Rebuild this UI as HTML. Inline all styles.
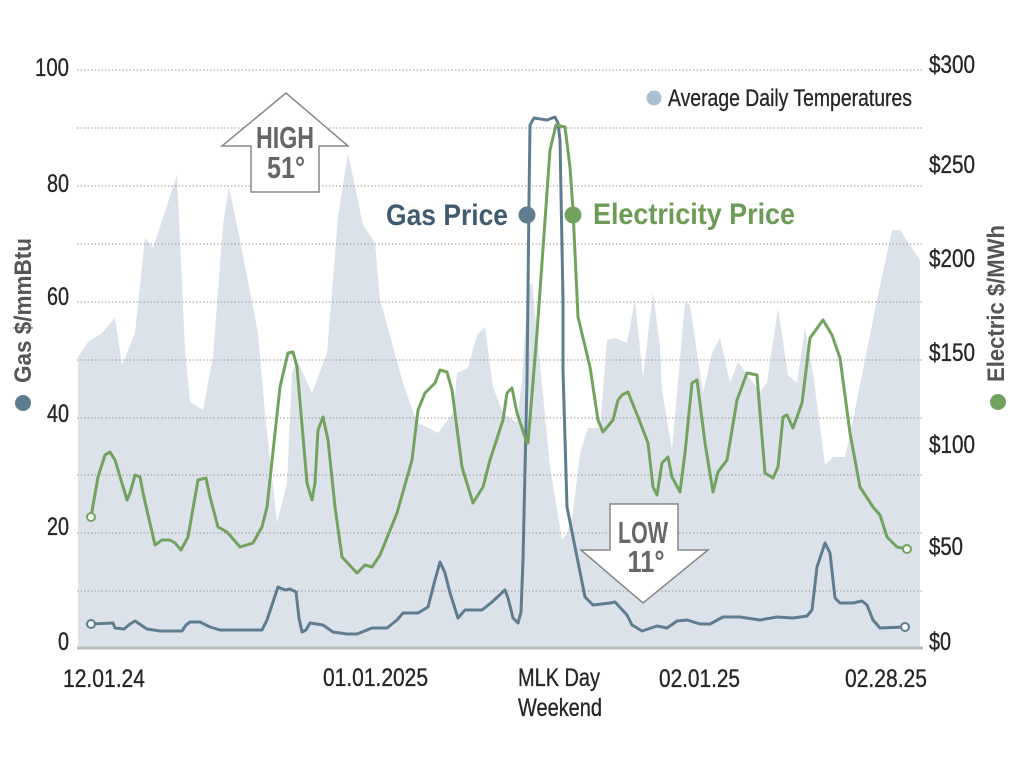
<!DOCTYPE html>
<html><head><meta charset="utf-8"><style>
html,body{margin:0;padding:0;background:#fff;}
svg{display:block;}
text{font-family:"Liberation Sans Narrow","Liberation Sans",sans-serif;}
</style></head><body>
<svg width="1014" height="771" viewBox="0 0 1014 771" xmlns="http://www.w3.org/2000/svg">
<rect width="1014" height="771" fill="#fff"/>
<polygon fill="#dce2ea" points="78,648 78,357 88,342 102,333 115,318 122,365 135,333 145,238 153,248 177,175 185,350 190,402 203,410 213,357 223,225 229,187 240,240 258,333 265,413 277,523 287,483 292,373 297,360 312,393 327,353 338,217 348,153 363,225 375,243 380,300 383,310 403,383 417,423 427,427 438,433 453,413 457,373 468,368 477,335 485,327 493,387 503,413 517,423 522,380 528,287 532,283 537,333 550,467 562,540 567,533 573,513 580,453 588,428 600,428 607,340 615,338 627,343 635,300 643,378 653,292 660,347 662,390 672,450 685,302 690,305 703,393 712,353 720,338 730,383 738,362 760,392 767,383 778,308 788,375 797,383 805,328 813,373 825,465 833,457 845,457 853,420 865,360 877,300 892,230 900,230 920,260 920,648"/>
<g stroke="#9a9a9a" stroke-width="1" stroke-dasharray="1.5,2">
<line x1="77" x2="923" y1="70" y2="70"/>
<line x1="77" x2="923" y1="128" y2="128"/>
<line x1="77" x2="923" y1="186" y2="186"/>
<line x1="77" x2="923" y1="244" y2="244"/>
<line x1="77" x2="923" y1="302" y2="302"/>
<line x1="77" x2="923" y1="360" y2="360"/>
<line x1="77" x2="923" y1="418" y2="418"/>
<line x1="77" x2="923" y1="475" y2="475"/>
<line x1="77" x2="923" y1="533" y2="533"/>
<line x1="77" x2="923" y1="591" y2="591"/>
</g>
<line x1="77" x2="923" y1="648" y2="648" stroke="#bcbcbc" stroke-width="3"/>

<polygon points="286,93 348,146 319,146 319,192 251,192 251,146 222,146" fill="#fff" stroke="#888" stroke-width="1.5"/>
<text x="285" y="148" font-size="31" font-weight="bold" fill="#666" text-anchor="middle" textLength="58" lengthAdjust="spacingAndGlyphs">HIGH</text>
<text x="286" y="178" font-size="31" font-weight="bold" fill="#666" text-anchor="middle" textLength="38" lengthAdjust="spacingAndGlyphs">51°</text>

<polygon points="610,504 678,504 678,550 708,550 643,603 581,550 610,550" fill="#fff" stroke="#888" stroke-width="1.5"/>
<text x="643" y="543" font-size="31" font-weight="bold" fill="#666" text-anchor="middle" textLength="50" lengthAdjust="spacingAndGlyphs">LOW</text>
<text x="646" y="572" font-size="31" font-weight="bold" fill="#666" text-anchor="middle" textLength="37" lengthAdjust="spacingAndGlyphs">11°</text>

<polyline fill="none" stroke="#5e7d8f" stroke-width="3" stroke-linejoin="round" stroke-linecap="round" points="91,624 113,623 115,628 124,629 130,624 135,621 147,629 160,631 182,631 186,625 190,622 200,622 210,627 220,630 262,630 267,620 272,605 278,587 285,590 290,589 296,592 299,618 302,632 306,630 310,623 323,625 333,632 347,634 357,634 372,628 387,628 397,620 403,613 418,613 428,607 435,580 440,562 445,573 450,593 458,618 465,610 482,610 492,602 505,590 508,598 513,618 518,623 521,612 523,560 527,380 529,200 530,125 534,118 547,120 555,117 558,123 560,140 563,300 563,370 567,507 575,547 585,597 593,605 610,603 615,602 627,615 632,625 642,631 657,626 667,628 677,621 687,620 700,624 710,624 723,617 740,617 760,620 777,617 793,618 807,616 812,610 817,567 825,543 830,553 835,598 840,603 853,603 862,601 867,605 873,620 880,628 905,627"/>
<circle cx="91" cy="624" r="4" fill="#fff" stroke="#5e7d8f" stroke-width="2"/>
<circle cx="905" cy="627" r="4" fill="#fff" stroke="#5e7d8f" stroke-width="2"/>

<polyline fill="none" stroke="#72a35e" stroke-width="3" stroke-linejoin="round" stroke-linecap="round" points="91,517 98,477 105,455 110,452 115,460 127,500 130,493 135,475 140,477 143,493 155,545 162,540 170,540 175,543 181,550 188,537 198,480 206,478 210,497 218,527 227,532 240,547 253,543 262,527 267,507 280,387 288,353 293,352 297,367 307,483 312,500 315,483 318,430 323,417 328,440 335,507 342,557 357,573 365,565 372,567 380,555 397,513 412,460 418,410 425,393 435,383 440,370 447,372 452,390 462,467 473,503 483,487 490,460 503,420 507,393 512,388 517,413 527,443 528,443 537,333 550,150 556,125 565,127 570,167 573,210 578,317 590,367 598,420 603,432 613,420 618,400 622,395 628,392 638,417 648,443 653,487 657,495 662,463 668,457 672,477 680,492 685,453 692,383 697,380 705,443 713,492 718,472 727,460 737,400 747,373 757,375 760,413 765,473 773,478 778,467 783,417 787,415 793,428 802,403 810,338 823,320 832,335 840,358 850,433 860,487 873,507 880,515 887,537 897,547 907,549"/>
<circle cx="91" cy="517" r="4" fill="#fff" stroke="#72a35e" stroke-width="2"/>
<circle cx="907" cy="549" r="4" fill="#fff" stroke="#72a35e" stroke-width="2"/>

<text x="386" y="225" font-size="30" font-weight="bold" fill="#3f5b70" textLength="122" lengthAdjust="spacingAndGlyphs">Gas Price</text>
<circle cx="527" cy="215" r="8.5" fill="#5e7d8f"/>
<circle cx="573" cy="215" r="8.5" fill="#72a35e"/>
<text x="593" y="224" font-size="30" font-weight="bold" fill="#6b9b55" textLength="202" lengthAdjust="spacingAndGlyphs">Electricity Price</text>

<circle cx="654" cy="98" r="7.5" fill="#aabfcf"/>
<text x="668" y="106" font-size="24" fill="#262626" stroke="#262626" stroke-width="0.3" textLength="244" lengthAdjust="spacingAndGlyphs">Average Daily Temperatures</text>

<g font-size="25" fill="#262626" stroke="#262626" stroke-width="0.35" text-anchor="end">
<text x="69" y="76" textLength="34" lengthAdjust="spacingAndGlyphs">100</text>
<text x="69" y="192" textLength="22" lengthAdjust="spacingAndGlyphs">80</text>
<text x="69" y="305" textLength="22" lengthAdjust="spacingAndGlyphs">60</text>
<text x="69" y="422" textLength="22" lengthAdjust="spacingAndGlyphs">40</text>
<text x="69" y="535" textLength="22" lengthAdjust="spacingAndGlyphs">20</text>
<text x="69" y="650" textLength="11" lengthAdjust="spacingAndGlyphs">0</text>
</g>
<g font-size="25" fill="#262626" stroke="#262626" stroke-width="0.35">
<text x="929" y="73" textLength="46" lengthAdjust="spacingAndGlyphs">$300</text>
<text x="929" y="173" textLength="46" lengthAdjust="spacingAndGlyphs">$250</text>
<text x="929" y="267" textLength="46" lengthAdjust="spacingAndGlyphs">$200</text>
<text x="929" y="361" textLength="46" lengthAdjust="spacingAndGlyphs">$150</text>
<text x="929" y="453" textLength="46" lengthAdjust="spacingAndGlyphs">$100</text>
<text x="929" y="555" textLength="34" lengthAdjust="spacingAndGlyphs">$50</text>
<text x="929" y="650" textLength="22" lengthAdjust="spacingAndGlyphs">$0</text>
</g>
<g font-size="25" fill="#262626" stroke="#262626" stroke-width="0.35">
<text x="63" y="687" textLength="82" lengthAdjust="spacingAndGlyphs">12.01.24</text>
<text x="323" y="686" textLength="105" lengthAdjust="spacingAndGlyphs">01.01.2025</text>
<text x="518" y="686" textLength="82" lengthAdjust="spacingAndGlyphs">MLK Day</text>
<text x="518" y="716" textLength="84" lengthAdjust="spacingAndGlyphs">Weekend</text>
<text x="659" y="687" textLength="81" lengthAdjust="spacingAndGlyphs">02.01.25</text>
<text x="845" y="687" textLength="82" lengthAdjust="spacingAndGlyphs">02.28.25</text>
</g>

<text transform="translate(31,383) rotate(-90)" font-size="24" font-weight="bold" fill="#555" textLength="145" lengthAdjust="spacingAndGlyphs">Gas $/mmBtu</text>
<circle cx="23" cy="403" r="8" fill="#5e7d8f"/>
<text transform="translate(1004,382) rotate(-90)" font-size="24" font-weight="bold" fill="#555" textLength="157" lengthAdjust="spacingAndGlyphs">Electric $/MWh</text>
<circle cx="998" cy="402" r="8" fill="#72a35e"/>
</svg>
</body></html>
